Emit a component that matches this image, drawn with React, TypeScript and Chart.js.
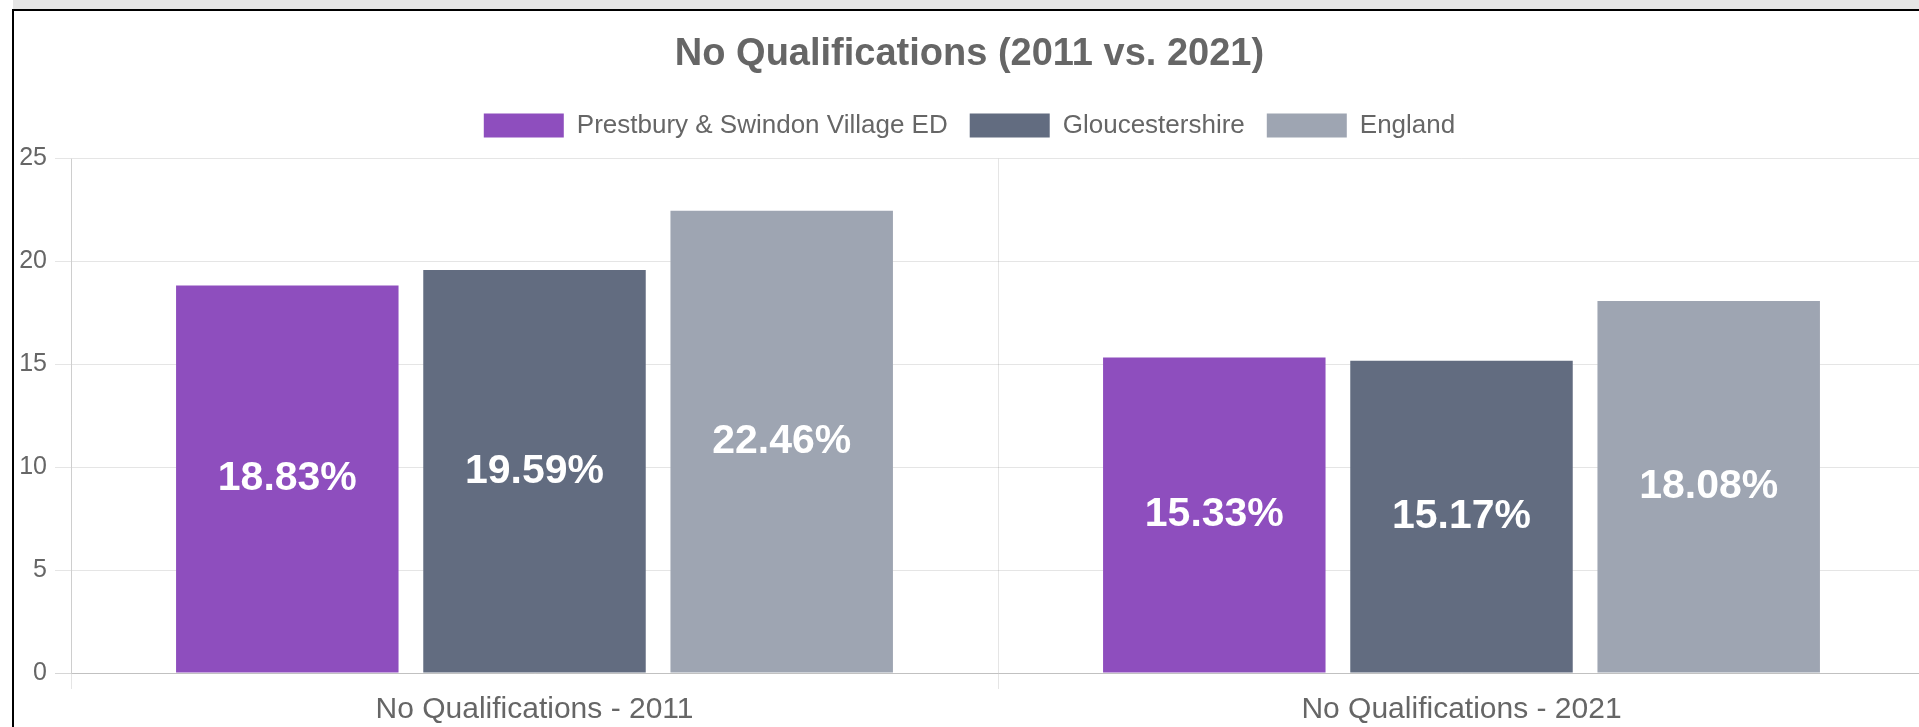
import React, { useEffect, useRef } from "react";
import { Chart, registerables } from "chart.js";

Chart.register(...registerables);

const FONT = "'Liberation Sans', Arial, Helvetica, sans-serif";

const chartTitle = "No Qualifications (2011 vs. 2021)";
const categories = ["No Qualifications - 2011", "No Qualifications - 2021"];
const seriesNames = ["Prestbury & Swindon Village ED", "Gloucestershire", "England"];
const prestburyValues = [18.83, 15.33];
const gloucestershireValues = [19.59, 15.17];
const englandValues = [22.46, 18.08];
const seriesColors = ["#8e4ebe", "#626c80", "#9ea5b2"];
const yTickValues = [0, 5, 10, 15, 20, 25];

const barLabelPlugin = {
  id: "barLabels",
  afterDatasetsDraw(chart: any) {
    const ctx = chart.ctx;
    ctx.save();
    ctx.font = `bold 41px ${FONT}`;
    ctx.fillStyle = "#ffffff";
    ctx.textAlign = "center";
    ctx.textBaseline = "middle";
    chart.data.datasets.forEach((ds: any, i: number) => {
      const meta = chart.getDatasetMeta(i);
      meta.data.forEach((bar: any, j: number) => {
        const v = ds.data[j] as number;
        ctx.fillText(v.toFixed(2) + "%", bar.x, (bar.y + bar.base) / 2);
      });
    });
    ctx.restore();
  },
};

const legendMarginPlugin = {
  id: "legendMargin",
  beforeInit(chart: any) {
    const legend = chart.legend;
    if (!legend) return;
    const origFit = legend.fit;
    legend.fit = function () {
      origFit.call(this);
      this.height += 10;
    };
  },
};

export default function App() {
  const canvasRef = useRef<HTMLCanvasElement | null>(null);

  useEffect(() => {
    if (!canvasRef.current) return;
    const valueSets = [prestburyValues, gloucestershireValues, englandValues];
    const chart = new Chart(canvasRef.current, {
      type: "bar",
      data: {
        labels: categories,
        datasets: seriesNames.map((name, i) => ({
          label: name,
          data: valueSets[i],
          backgroundColor: seriesColors[i],
          borderWidth: 0,
        })),
      },
      options: {
        animation: false,
        responsive: true,
        maintainAspectRatio: false,
        layout: { padding: 0 },
        plugins: {
          title: {
            display: true,
            text: chartTitle,
            color: "#666666",
            font: { family: FONT, size: 38, weight: "bold" },
            padding: { top: 21, bottom: 13 },
          },
          legend: {
            display: true,
            labels: {
              boxWidth: 80,
              boxHeight: 24,
              color: "#666666",
              font: { family: FONT, size: 26 },
              padding: 22,
            },
          },
          tooltip: { enabled: false },
        },
        scales: {
          x: {
            grid: {
              color: "rgba(0,0,0,0.1)",
              tickLength: 16,
              offset: true,
            },
            border: { color: "rgba(0,0,0,0.1)" },
            ticks: {
              color: "#666666",
              font: { family: FONT, size: 30 },
              padding: 3,
            },
          },
          y: {
            min: 0,
            max: 25,
            afterBuildTicks: (scale: any) => {
              scale.ticks = yTickValues.map((v) => ({ value: v }));
            },
            afterFit: (scale: any) => {
              scale.width = 57;
            },
            grid: {
              tickLength: 16,
              color: (ctx: any) =>
                ctx.tick && ctx.tick.value === 0 ? "rgba(0,0,0,0.16)" : "rgba(0,0,0,0.1)",
            },
            border: { color: "rgba(0,0,0,0.1)" },
            ticks: {
              color: "#666666",
              font: { family: FONT, size: 25 },
              padding: 8,
            },
          },
        },
      },
      plugins: [legendMarginPlugin, barLabelPlugin],
    } as any);
    return () => chart.destroy();
  }, []);

  return (
    <div
      style={{
        position: "fixed",
        left: 0,
        top: 0,
        right: 0,
        bottom: 0,
        overflow: "hidden",
        background: "#ffffff",
      }}
    >
      <div
        style={{
          position: "absolute",
          left: 13,
          top: 0,
          right: 0,
          height: 9,
          background: "#e5e5e5",
        }}
      />
      <div
        style={{
          position: "absolute",
          left: 12,
          top: 9,
          width: 1960,
          height: 760,
          borderTop: "2px solid #000",
          borderLeft: "2px solid #000",
          boxSizing: "border-box",
          background: "#ffffff",
        }}
      >
        <div style={{ position: "absolute", left: 0, top: 0, width: 1911, height: 720 }}>
          <canvas ref={canvasRef} />
        </div>
      </div>
    </div>
  );
}
